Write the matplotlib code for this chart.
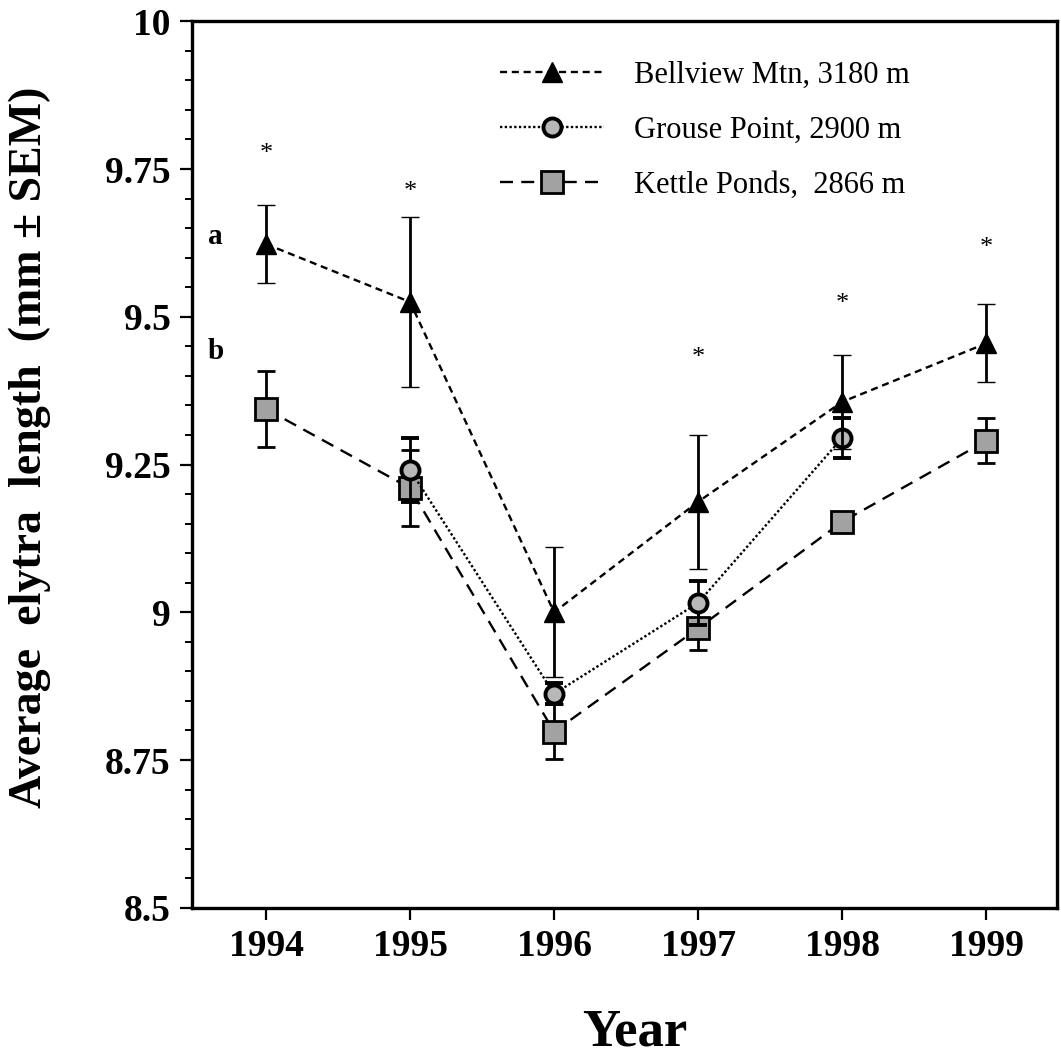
import numpy as np
import matplotlib
matplotlib.use("Agg")
import matplotlib.pyplot as plt
from matplotlib.ticker import MultipleLocator, FixedLocator, FormatStrFormatter

plt.rcParams['font.family'] = ['Liberation Serif', 'DejaVu Serif']

years = [1994, 1995, 1996, 1997, 1998, 1999]

bellview = [9.623, 9.525, 9.00, 9.187, 9.356, 9.455]
bellview_sem = [0.066, 0.144, 0.11, 0.113, 0.08, 0.066]

grouse = [np.nan, 9.241, 8.862, 9.016, 9.295, np.nan]
grouse_sem = [np.nan, 0.054, 0.018, 0.037, 0.034, np.nan]

kettle = [9.344, 9.210, 8.798, 8.973, 9.153, 9.290]
kettle_sem = [0.065, 0.064, 0.046, 0.036, 0.0, 0.038]

labels = ["Bellview Mtn, 3180 m", "Grouse Point, 2900 m", "Kettle Ponds,  2866 m"]
yticks = [8.5, 8.75, 9.0, 9.25, 9.5, 9.75, 10.0]

# significance stars above each year
star_years = [1994, 1995, 1997, 1998, 1999]
star_y = [9.79, 9.726, 9.444, 9.535, 9.631]

# group letters at 1994
letters = ["a", "b"]
letter_y = [9.636, 9.442]

fig = plt.figure(figsize=(10.61, 10.63), dpi=100)
ax = fig.add_axes([0.181, 0.146, 0.815, 0.834])

eb_kw = dict(ecolor="black", elinewidth=2, capsize=6.5, capthick=2.4, color="black")

kp = ax.errorbar(years, kettle, yerr=kettle_sem, marker="s", ms=16, mfc="#a2a2a2",
                 mec="black", mew=2, lw=1.7, dashes=(5.5, 3.5), zorder=3, **eb_kw)
gp = ax.errorbar(years, grouse, yerr=grouse_sem, marker="o", ms=13, mfc="#b8b8b8",
                 mec="black", mew=2.8, lw=1.7, dashes=(1, 1), zorder=4, **eb_kw)
bm = ax.errorbar(years, bellview, yerr=bellview_sem, marker="^", ms=14, mfc="black",
                 mec="black", mew=1, lw=1.7, dashes=(3, 2), zorder=5, **eb_kw)

for x, y in zip(star_years, star_y):
    ax.annotate("*", (x, y), xytext=(0, -6), textcoords="offset points",
                ha="center", va="center", fontsize=19)

for t, y in zip(letters, letter_y):
    ax.text(1993.65, y, t, ha="center", va="center", fontsize=21, fontweight="bold")

ax.set_xlim(1993.486, 1999.49)
ax.set_ylim(8.5, 10)
ax.xaxis.set_major_locator(FixedLocator(years))
ax.yaxis.set_major_locator(FixedLocator(yticks))
ax.yaxis.set_major_formatter(FormatStrFormatter("%g"))
ax.yaxis.set_minor_locator(MultipleLocator(0.05))
ax.tick_params(axis="both", which="major", direction="out", length=8.5, width=1.6,
               labelsize=27, pad=7)
ax.tick_params(axis="y", which="minor", direction="out", length=5, width=1.4)
for lab in ax.get_xticklabels() + ax.get_yticklabels():
    lab.set_fontweight("bold")
for sp in ax.spines.values():
    sp.set_linewidth(2.4)

ax.legend([bm[0], gp[0], kp[0]], labels,
          loc="upper left", bbox_to_anchor=(0.356, 0.955), frameon=False,
          fontsize=22, handlelength=3.4, handletextpad=1.0, labelspacing=0.85,
          borderpad=0, borderaxespad=0, numpoints=1)

fig.text(30 / 1061, 1 - 447 / 1063, "Average  elytra  length  (mm \u00b1 SEM)",
         rotation=90, ha="center", va="center", fontsize=33, fontweight="bold")
fig.text(635 / 1061, 1 - 1046 / 1063, "Year", ha="center", va="baseline",
         fontsize=38, fontweight="bold")

fig.savefig("out.png", dpi=100)
